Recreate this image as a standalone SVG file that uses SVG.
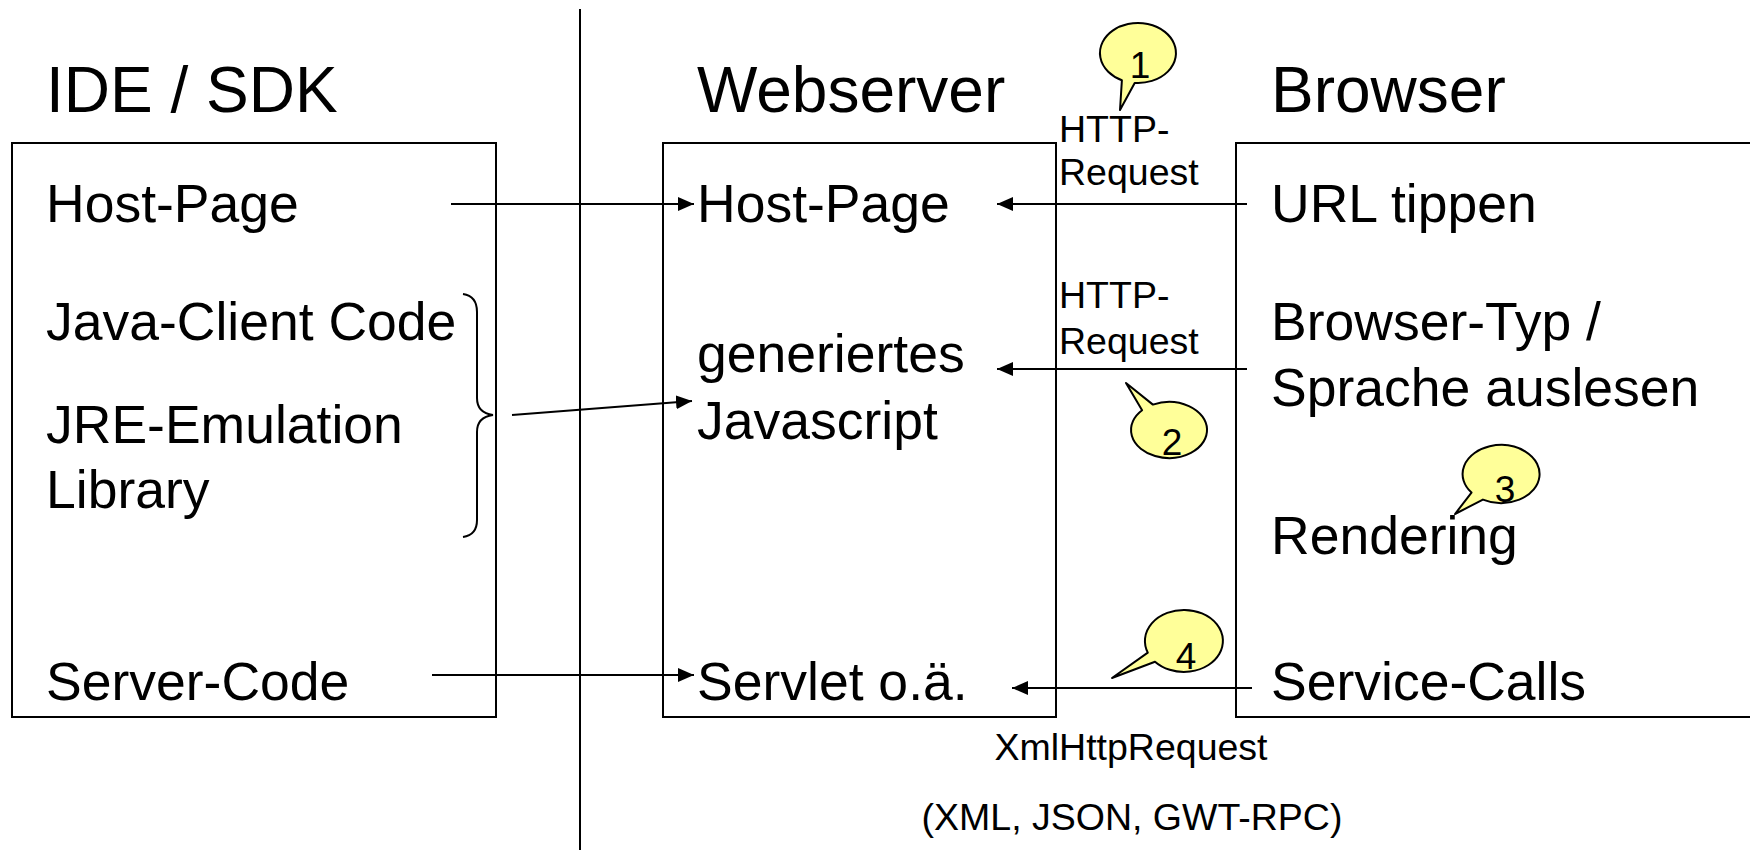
<svg xmlns="http://www.w3.org/2000/svg" width="1750" height="850" viewBox="0 0 1750 850">
  <style>
    text { font-family: "Liberation Sans", Arial, sans-serif; fill: #000; }
    .title { font-size: 64px; }
    .item { font-size: 53.5px; }
    .small { font-size: 37.5px; }
    .num { font-size: 37px; text-anchor: middle; }
    .frame { fill: none; stroke: #000; stroke-width: 2; }
    .link { fill: none; stroke: #000; stroke-width: 2; }
    .callout { fill: #ffff99; stroke: #000; stroke-width: 2; stroke-linejoin: round; }
  </style>
  <defs>
    <marker id="arrow" viewBox="0 0 16 14" refX="16" refY="7" markerWidth="16" markerHeight="14" markerUnits="userSpaceOnUse" orient="auto">
      <path d="M0,0 L16,7 L0,14 Z" fill="#000"/>
    </marker>
  </defs>
  <rect width="1750" height="850" fill="#fff"/>

  <!-- divider between development side and runtime side -->
  <line x1="580" y1="9" x2="580" y2="850" stroke="#000" stroke-width="2"/>

  <g id="ide-sdk">
    <text class="title" x="46" y="112">IDE / SDK</text>
    <rect class="frame" x="12" y="143" width="484" height="574"/>
    <text class="item" x="46" y="222">Host-Page</text>
    <text class="item" x="46" y="340">Java-Client Code</text>
    <text class="item" x="46" y="443">JRE-Emulation</text>
    <text class="item" x="46" y="508">Library</text>
    <text class="item" x="46" y="700">Server-Code</text>
    <path class="frame" d="M463,294 Q477,296 477,312 L477,398 Q477,413 493,415 Q477,417 477,432 L477,520 Q477,535 463,537"/>
  </g>

  <g id="webserver">
    <text class="title" x="697" y="112">Webserver</text>
    <rect class="frame" x="663" y="143" width="393" height="574"/>
    <text class="item" x="697" y="222">Host-Page</text>
    <text class="item" x="697" y="372">generiertes</text>
    <text class="item" x="697" y="439">Javascript</text>
    <text class="item" x="697" y="700">Servlet o.ä.</text>
  </g>

  <g id="browser">
    <text class="title" x="1271" y="112">Browser</text>
    <path class="frame" d="M1760,143 H1236 V717 H1760"/>
    <text class="item" x="1271" y="222">URL tippen</text>
    <text class="item" x="1271" y="340">Browser-Typ /</text>
    <text class="item" x="1271" y="406">Sprache auslesen</text>
    <text class="item" x="1271" y="554">Rendering</text>
    <text class="item" x="1271" y="700">Service-Calls</text>
  </g>

  <g id="connectors">
    <line class="link" x1="451" y1="204" x2="694" y2="204" marker-end="url(#arrow)"/>
    <line class="link" x1="1247" y1="204" x2="997" y2="204" marker-end="url(#arrow)"/>
    <line class="link" x1="1247" y1="369" x2="997" y2="369" marker-end="url(#arrow)"/>
    <line class="link" x1="512" y1="415" x2="692" y2="401" marker-end="url(#arrow)"/>
    <line class="link" x1="432" y1="675" x2="694" y2="675" marker-end="url(#arrow)"/>
    <line class="link" x1="1252" y1="688" x2="1012" y2="688" marker-end="url(#arrow)"/>
  </g>

  <g id="labels">
    <text class="small" x="1059" y="142">HTTP-</text>
    <text class="small" x="1059" y="185">Request</text>
    <text class="small" x="1059" y="308">HTTP-</text>
    <text class="small" x="1059" y="354">Request</text>
    <text class="small" x="1131" y="760" text-anchor="middle">XmlHttpRequest</text>
    <text class="small" x="1132" y="830" text-anchor="middle">(XML, JSON, GWT-RPC)</text>
  </g>

  <g id="callout-1">
    <path class="callout" d="M1121.9,80.2 A38,30 0 1 1 1134.7,82.9 L1120,110 Z"/>
    <text class="num" x="1140" y="78">1</text>
  </g>
  <g id="callout-2">
    <path class="callout" d="M1142.1,410.2 A38,28 0 1 0 1152.9,404.6 L1126,383 Z"/>
    <text class="num" x="1172" y="455">2</text>
  </g>
  <g id="callout-3">
    <path class="callout" d="M1471.5,492.6 A38.5,29 0 1 1 1482.9,499.6 L1455,514 Z"/>
    <text class="num" x="1505" y="502">3</text>
  </g>
  <g id="callout-4">
    <path class="callout" d="M1147.8,652.6 A39,31 0 1 1 1155,661.7 L1112,678 Z"/>
    <text class="num" x="1186" y="669">4</text>
  </g>
</svg>
